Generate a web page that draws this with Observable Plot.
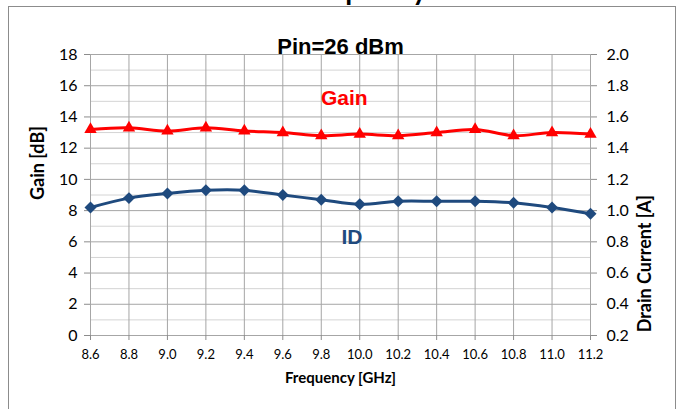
<!DOCTYPE html>
<html>
<head>
<meta charset="utf-8">
<script src="https://cdn.jsdelivr.net/npm/d3@7"></script>
<script src="https://cdn.jsdelivr.net/npm/@observablehq/plot@0.6"></script>
<style>
  html, body { margin: 0; padding: 0; background: #fff; }
  #wrap { position: relative; width: 681px; height: 409px; overflow: hidden; background: #fff; }
  #border { position: absolute; left: 8px; top: 6px; width: 668px; height: 440px; border: 1px solid #8c8c8c; box-sizing: border-box; }
  #toptitle { position: absolute; right: 254px; top: -23px; font: bold 28px Lato, sans-serif; line-height: 24px; color: #000; white-space: nowrap; }
  #chart { position: absolute; left: 0; top: 0; }
</style>
</head>
<body>
<div id="wrap">
  <div id="toptitle">Gain vs. Frequency</div>
  <div id="border"></div>
  <div id="chart"></div>
</div>
<script>
const freq = [8.6, 8.8, 9.0, 9.2, 9.4, 9.6, 9.8, 10.0, 10.2, 10.4, 10.6, 10.8, 11.0, 11.2];
const gain = [13.2, 13.3, 13.1, 13.3, 13.1, 13.0, 12.8, 12.9, 12.8, 13.0, 13.2, 12.8, 13.0, 12.9];
const drainCurrent = [1.02, 1.08, 1.11, 1.13, 1.13, 1.10, 1.07, 1.04, 1.06, 1.06, 1.06, 1.05, 1.02, 0.98];
const gainTicks = [0, 2, 4, 6, 8, 10, 12, 14, 16, 18];
const gainMinor = [1, 3, 5, 7, 9, 11, 13, 15, 17];
const currentTicks = [0.2, 0.4, 0.6, 0.8, 1.0, 1.2, 1.4, 1.6, 1.8, 2.0];
const seriesLabels = ["Gain", "ID"];
const labelFreq = [9.92, 9.96];
const labelLevel = [15.2, 6.3];
const titleText = "Pin=26 dBm";
const xLabel = "Frequency [GHz]";
const yLabelLeft = "Gain [dB]";
const yLabelRight = "Drain Current [A]";

// current axis 0.2..2.0 A shares the 0..18 dB range
const currentToDb = c => (c - 0.2) * 10;

const rows = freq.map((f, i) => ({freq: f, gain: gain[i], id: drainCurrent[i], idDb: currentToDb(drainCurrent[i])}));
const labels = seriesLabels.map((t, i) => ({text: t, freq: labelFreq[i], level: labelLevel[i]}));

const RED = "#ff0000";
const BLUE = "#1f4a7e";

const chart = Plot.plot({
  width: 681,
  height: 409,
  marginLeft: 90,
  marginRight: 91,
  marginTop: 54,
  marginBottom: 74,
  style: {fontFamily: "Lato, sans-serif", fontSize: "16px", color: "#000", background: "transparent", overflow: "visible"},
  x: {domain: [8.6, 11.2]},
  y: {domain: [0, 18]},
  marks: [
    Plot.gridY(gainMinor, {stroke: "#d4d4d4", strokeOpacity: 1, strokeWidth: 1}),
    Plot.gridY(gainTicks, {stroke: "#a6a6a6", strokeOpacity: 1, strokeWidth: 1}),
    Plot.gridX(freq, {stroke: "#a6a6a6", strokeOpacity: 1, strokeWidth: 1}),
    Plot.axisY(gainTicks, {anchor: "left", tickSize: 6, tickPadding: 7, stroke: "#8c8c8c", label: null, fontSize: 16}),
    Plot.axisY(currentTicks.map(currentToDb), {anchor: "right", tickSize: 6, tickPadding: 10, stroke: "#8c8c8c", label: null, fontSize: 16,
      tickFormat: (d, i) => currentTicks[i].toFixed(1)}),
    Plot.axisX(freq, {anchor: "bottom", tickSize: 5, tickPadding: 9, stroke: "#8c8c8c", label: null, fontSize: 13,
      tickFormat: d => d.toFixed(1)}),
    Plot.line(rows, {x: "freq", y: "gain", stroke: RED, strokeWidth: 3, curve: "catmull-rom"}),
    Plot.dot(rows, {x: "freq", y: "gain", symbol: "triangle", r: 4.6, fill: RED, stroke: "none"}),
    Plot.line(rows, {x: "freq", y: "idDb", stroke: BLUE, strokeWidth: 3, curve: "catmull-rom"}),
    Plot.dot(rows, {x: "freq", y: "idDb", symbol: "diamond2", r: 5.4, fill: BLUE, stroke: "none"}),
    Plot.text(labels, {x: "freq", y: "level", text: "text", fill: (d, i) => i === 0 ? RED : BLUE,
      fontFamily: "'Liberation Sans', Arial, sans-serif", fontWeight: "bold", fontSize: 21}),
    Plot.text([titleText], {frameAnchor: "top", dy: -16, fontFamily: "'Liberation Sans Narrow', 'Liberation Sans', sans-serif", fontWeight: "bold", fontSize: 22}),
    Plot.text([xLabel], {frameAnchor: "bottom", dy: 47, fontWeight: "bold", fontSize: 15}),
    Plot.text([yLabelLeft], {frameAnchor: "left", dx: -52, dy: 5, rotate: -90, fontWeight: "bold", fontSize: 18}),
    Plot.text([yLabelRight], {frameAnchor: "right", dx: 55, rotate: -90, fontWeight: "bold", fontSize: 18})
  ]
});
document.getElementById("chart").appendChild(chart);
</script>
</body>
</html>
